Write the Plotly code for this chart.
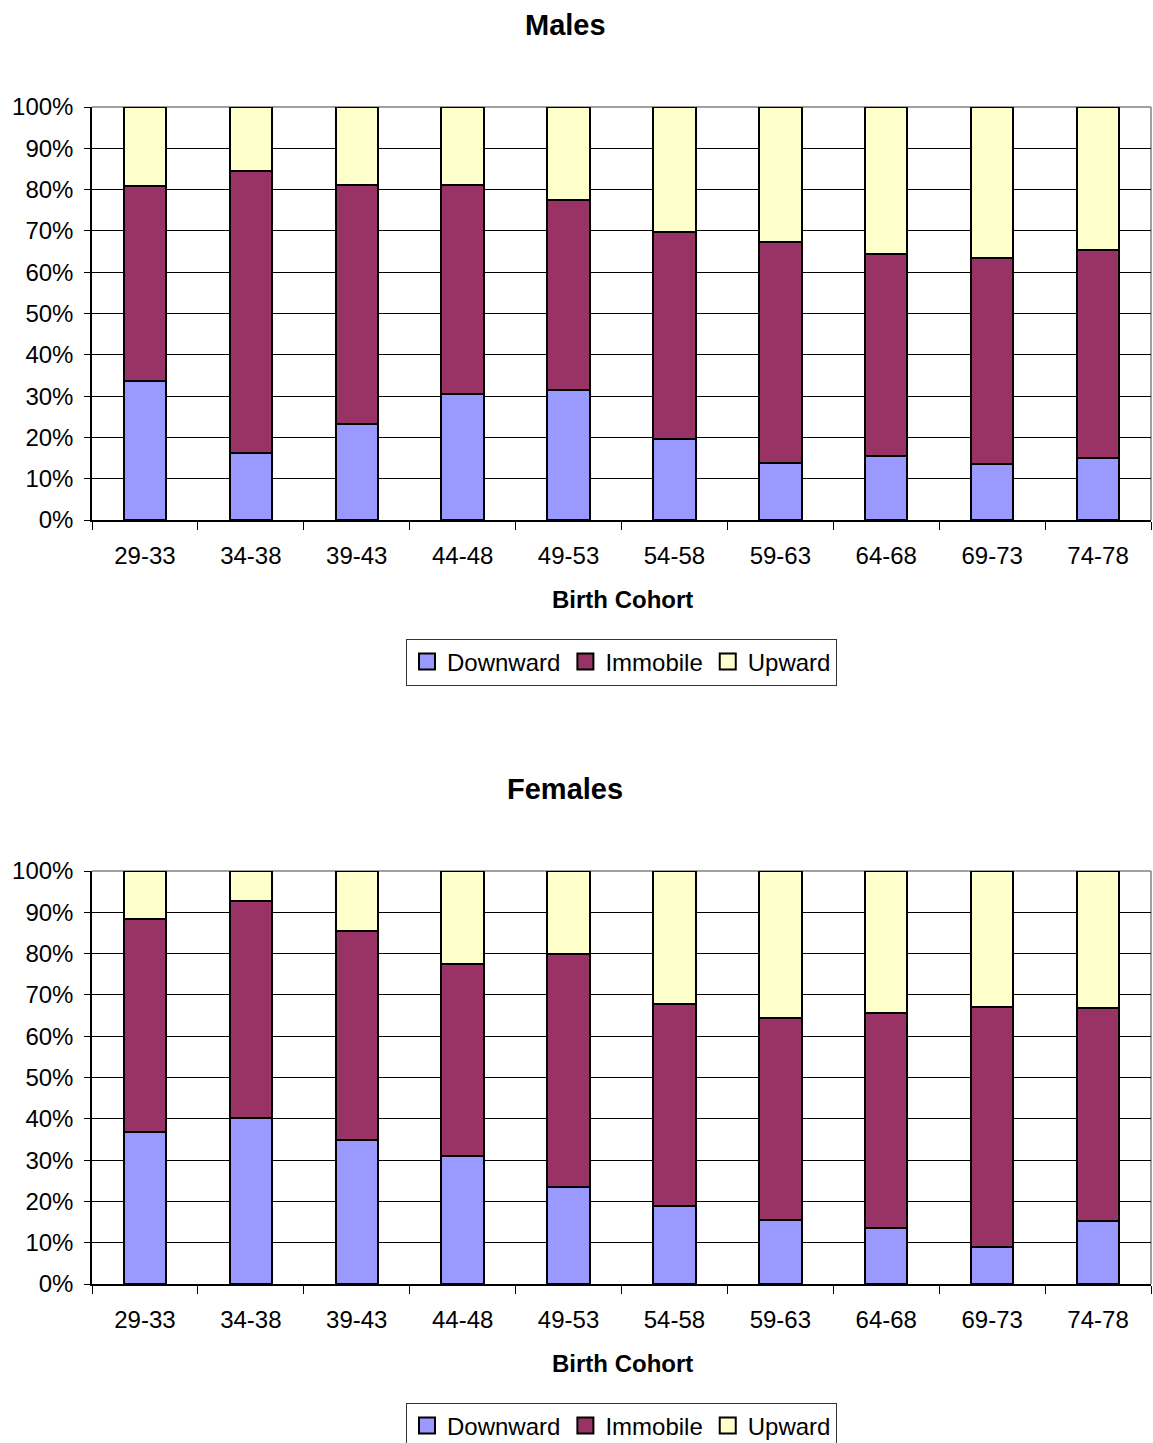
import plotly.graph_objects as go

cohorts = ["29-33", "34-38", "39-43", "44-48", "49-53", "54-58", "59-63", "64-68", "69-73", "74-78"]
series_names = ["Downward", "Immobile", "Upward"]

males_downward = [33.7, 16.2, 23.2, 30.5, 31.5, 19.6, 13.8, 15.5, 13.6, 15.0]
males_immobile = [47.2, 68.3, 57.9, 50.6, 46.0, 50.1, 53.5, 48.9, 49.8, 50.4]
males_upward = [19.1, 15.5, 18.9, 18.9, 22.5, 30.3, 32.7, 35.6, 36.6, 34.6]

females_downward = [36.8, 40.2, 34.9, 31.0, 23.5, 18.9, 15.5, 13.6, 9.0, 15.3]
females_immobile = [51.6, 52.5, 50.6, 46.5, 56.4, 48.9, 48.9, 52.0, 58.1, 51.5]
females_upward = [11.6, 7.3, 14.5, 22.5, 20.1, 32.2, 35.6, 34.4, 32.9, 33.2]

colors = ["#9999FF", "#993366", "#FFFFCC"]
FONT = "Liberation Sans, Arial, sans-serif"
W, H = 1153, 1443

fig = go.Figure()

panels = [
    ("Males", [males_downward, males_immobile, males_upward], "x", "y", "legend"),
    ("Females", [females_downward, females_immobile, females_upward], "x2", "y2", "legend2"),
]
for title, vals, xa, ya, lg in panels:
    for name, v, c in zip(series_names, vals, colors):
        fig.add_trace(go.Bar(
            x=cohorts, y=v, name=name, xaxis=xa, yaxis=ya, legend=lg, showlegend=False,
            legendgroup=lg + name,
            marker=dict(color=c, line=dict(color="black", width=2)),
            hoverinfo="x+y+name",
        ))
    # legend entries with larger square swatches
    for name, c in zip(series_names, colors):
        fig.add_trace(go.Scatter(
            x=[None], y=[None], mode="markers", name=name, xaxis=xa, yaxis=ya, legend=lg,
            legendgroup=lg + name, showlegend=True,
            marker=dict(symbol="square", size=16, color=c, line=dict(color="black", width=2)),
        ))

# pixel geometry
px_l, px_r = 92, 1151
males_top, males_bot = 107, 520
fem_top, fem_bot = 871, 1284

def py(p):
    return 1 - p / H

xdom = [px_l / W, px_r / W]
axis_common_x = dict(
    domain=xdom, type="category", showline=True, linecolor="black", linewidth=1.5,
    ticks="outside", tickson="boundaries", ticklen=8, tickcolor="black", tickwidth=1,
    tickfont=dict(family=FONT, size=24, color="black"), showgrid=False, automargin=False,
    ticklabelstandoff=13, categoryorder="array", categoryarray=cohorts, fixedrange=True,
)
axis_common_y = dict(
    range=[0, 100], dtick=10, ticksuffix="%", showline=True, linecolor="black", linewidth=1.5,
    ticks="outside", ticklen=6, tickcolor="black", tickwidth=1,
    tickfont=dict(family=FONT, size=24, color="black"), automargin=False,
    showgrid=True, gridcolor="black", gridwidth=1, zeroline=False,
    ticklabelstandoff=6, fixedrange=True,
)

legend_common = dict(
    orientation="h", xanchor="center", yanchor="middle",
    bordercolor="#333333", borderwidth=1, bgcolor="white",
    font=dict(family=FONT, size=24, color="black"), traceorder="normal",
    itemwidth=30, tracegroupgap=0, itemclick=False, itemdoubleclick=False,
)

fig.update_layout(
    template="none",
    width=W, height=H,
    margin=dict(l=0, r=0, t=0, b=0, pad=0, autoexpand=False),
    paper_bgcolor="white", plot_bgcolor="white",
    barmode="stack", bargap=0.6,
    font=dict(family=FONT, size=24, color="black"),
    xaxis=dict(axis_common_x, anchor="y"),
    yaxis=dict(axis_common_y, domain=[py(males_bot), py(males_top)], anchor="x"),
    xaxis2=dict(axis_common_x, anchor="y2"),
    yaxis2=dict(axis_common_y, domain=[py(fem_bot), py(fem_top)], anchor="x2"),
    legend=dict(legend_common, x=621.5 / W, y=py(662)),
    legend2=dict(legend_common, x=621.5 / W, y=py(1426)),
)

annotations = []
shapes = []
for title, top, bot, tpy, xtpy in [
    ("Males", males_top, males_bot, 25, 599),
    ("Females", fem_top, fem_bot, 789, 1363),
]:
    annotations.append(dict(text="<b>%s</b>" % title, x=565 / W, y=py(tpy), xref="paper", yref="paper",
                            xanchor="center", yanchor="middle", showarrow=False,
                            font=dict(family=FONT, size=29, color="black")))
    annotations.append(dict(text="<b>Birth Cohort</b>", x=622.5 / W, y=py(xtpy), xref="paper", yref="paper",
                            xanchor="center", yanchor="middle", showarrow=False,
                            font=dict(family=FONT, size=24, color="black")))
    # gray plot-area border on top and right
    shapes.append(dict(type="line", xref="paper", yref="paper", x0=xdom[0], x1=xdom[1],
                       y0=py(top), y1=py(top), line=dict(color="#808080", width=1.5), layer="between"))
    shapes.append(dict(type="line", xref="paper", yref="paper", x0=xdom[1], x1=xdom[1],
                       y0=py(bot), y1=py(top), line=dict(color="#808080", width=1.5), layer="between"))

fig.update_layout(annotations=annotations, shapes=shapes)

post = (
    "document.documentElement.style.margin='0';"
    "document.body.style.margin='0';"
    "document.body.style.overflow='hidden';"
    "var gd=document.getElementById('{plot_id}');"
    "gd.style.position='fixed';gd.style.left='0px';gd.style.top='0px';"
)

fig.write_html("out.html", post_script=post, config={"displayModeBar": False})
